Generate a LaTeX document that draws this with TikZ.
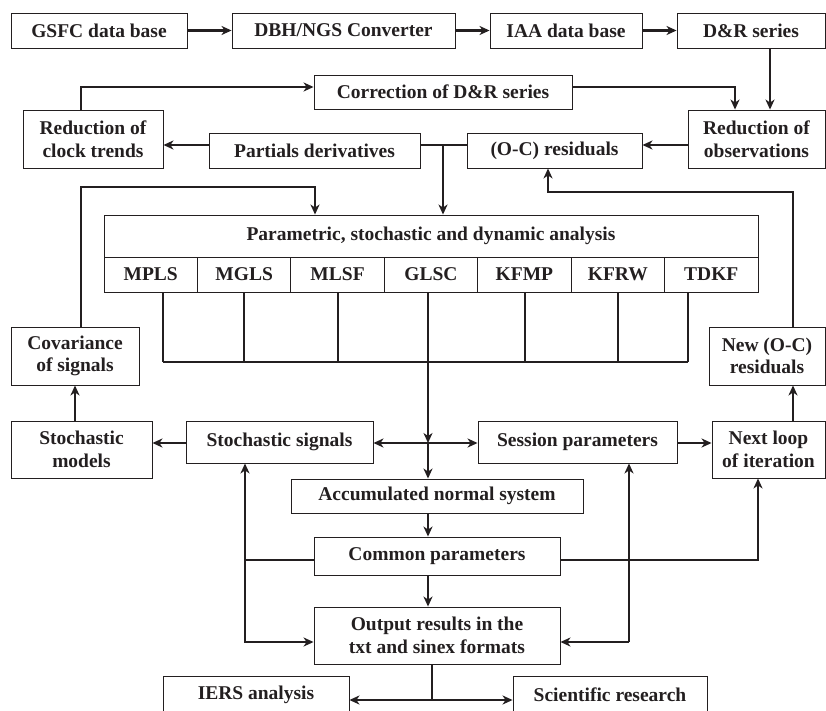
\documentclass[tikz,border=0pt]{standalone}
\usepackage{fontspec}
\setmainfont{Liberation Serif}
\usepackage{tikz}
\usetikzlibrary{calc}
\usetikzlibrary{arrows.meta}
\definecolor{ink}{HTML}{231F20}

\begin{document}
\begin{tikzpicture}[x=1pt,y=-1pt,
    box/.style={draw=ink,line width=0.9pt,inner sep=0pt,align=center,text=ink,
      font=\fontsize{19.5}{22.5}\selectfont\bfseries},
    arr/.style={draw=ink,line width=2.4pt,-{Stealth[length=10pt,width=9pt,inset=3pt]}},
    link/.style={draw=ink,line width=1.7pt}]
\useasboundingbox (0,0) rectangle (826,711);

\node[box,minimum width=176pt,minimum height=35pt] (gsfc) at (99,30.5) {GSFC data base};
\node[box,minimum width=223pt,minimum height=35pt] (dbh) at (343.5,30.5) {DBH/NGS Converter};
\node[box,minimum width=152pt,minimum height=35pt] (iaa) at (566,30.5) {IAA data base};
\node[box,minimum width=148pt,minimum height=35pt] (dr) at (751,30.5) {D\&R series};
\node[box,minimum width=258pt,minimum height=34pt] (corr) at (443,92) {Correction of D\&R series};
\node[box,minimum width=140pt,minimum height=58pt] (clock) at (93,139) {Reduction of\\clock trends};
\node[box,minimum width=211pt,minimum height=35pt] (partial) at (314.5,150.5) {Partials derivatives};
\node[box,minimum width=175pt,minimum height=35pt] (oc) at (554.5,150.5) {(O-C) residuals};
\node[box,minimum width=137pt,minimum height=58pt] (redobs) at (756.5,139) {Reduction of\\observations};

\node[box,minimum width=654pt,minimum height=42pt] (param) at (431,236) {Parametric, stochastic and dynamic analysis};
\foreach \name [count=\i] in {MPLS,MGLS,MLSF,GLSC,KFMP,KFRW,TDKF}
  \node[box,minimum width=93.43pt,minimum height=35pt] (c\i) at ({104+93.43*(\i-0.5)},274.5) {\name};

\node[box,minimum width=128pt,minimum height=58pt] (cov) at (75,356) {Covariance\\of signals};
\node[box,minimum width=116pt,minimum height=58pt] (newoc) at (767,356) {New (O-C)\\residuals};
\node[box,minimum width=141pt,minimum height=57pt] (models) at (81.5,449.5) {Stochastic\\models};
\node[box,minimum width=187pt,minimum height=42pt] (signals) at (279.5,442) {Stochastic signals};
\node[box,minimum width=199pt,minimum height=42pt] (session) at (577.5,442) {Session parameters};
\node[box,minimum width=113pt,minimum height=57pt] (next) at (768.5,449.5) {Next loop\\of iteration};
\node[box,minimum width=292pt,minimum height=34pt] (accum) at (437,496) {Accumulated normal system};
\node[box,minimum width=246pt,minimum height=38pt] (common) at (437,556) {Common parameters};
\node[box,minimum width=246pt,minimum height=57pt] (output) at (437,635.5) {Output results in the\\txt and sinex formats};
\node[box,minimum width=186pt,minimum height=38pt] (iers) at (256,695) {IERS analysis};
\node[box,minimum width=194pt,minimum height=38pt] (sci) at (610,695) {Scientific research};

\coordinate (j1) at (443,145);
\coordinate (k1) at (315,187);
\coordinate (k2) at (548,192);
\coordinate (hub) at (428,443);
\coordinate (l1) at (245,560);
\coordinate (l2) at (245,642);
\coordinate (r1) at (629,642);
\coordinate (j3) at (432,700);

\draw[arr] (gsfc) -- (dbh);
\draw[arr] (dbh) -- (iaa);
\draw[arr] (iaa) -- (dr);
\draw[arr] ([xshift=19pt]dr.south) -- ([xshift=19pt]dr.south |- redobs.north);
\draw[arr] ([xshift=-12pt]clock.north) |- ([yshift=5pt]corr.west);
\draw[arr] ([yshift=5pt]corr.east) -| ([xshift=-21.5pt]redobs.north);
\draw[arr] (redobs.west |- j1) -- (oc.east |- j1);
\draw[arr] (partial.west |- j1) -- (clock.east |- j1);
\draw[link,line width=2.4pt] (partial.east |- j1) -- (oc.west |- j1);
\draw[arr] (j1) -- (j1 |- param.north);
\draw[arr] ([xshift=6pt]cov.north) |- (k1) -- (k1 |- param.north);
\draw[arr] ([xshift=26pt]newoc.north) |- (k2) -- (k2 |- oc.south);

\foreach \i/\x in {1/163,2/244,3/338,4/428,5/525,6/618,7/688}
  \draw[link] (c\i.south -| \x,0) -- (\x,362);
\draw[link] (163,362) -- (688,362);
\draw[arr] (428,362) -- (hub);
\draw[arr] (hub) -- (hub |- accum.north);
\draw[arr] (hub) -- (signals.east |- hub);
\draw[arr] (hub) -- (session.west |- hub);
\draw[arr] (signals.west |- hub) -- (models.east |- hub);
\draw[arr] (models.north -| cov.north) -- (cov.south);
\draw[arr] (session.east |- hub) -- (next.west |- hub);
\draw[arr] ([xshift=24.5pt]next.north) -- ([xshift=24.5pt]next.north |- newoc.south);

\draw[arr] (accum.south -| hub) -- (common.north -| hub);
\draw[arr] (common.south -| hub) -- (output.north -| hub);
\draw[link] (output.south -| j3) -- (j3);
\draw[arr] (j3) -- (iers.east |- j3);
\draw[arr] (j3) -- (sci.west |- j3);

\draw[link] (common.west |- l1) -- (l1);
\draw[arr] (l1) -- (l1 |- signals.south);
\draw[arr] (l1) -- (l2) -- (output.west |- l2);
\draw[arr] (r1) -- (r1 |- session.south);
\draw[arr] (r1) -- (output.east |- r1);
\draw[arr] (common.east |- l1) -| ([xshift=-10.5pt]next.south);
\end{tikzpicture}
\end{document}
